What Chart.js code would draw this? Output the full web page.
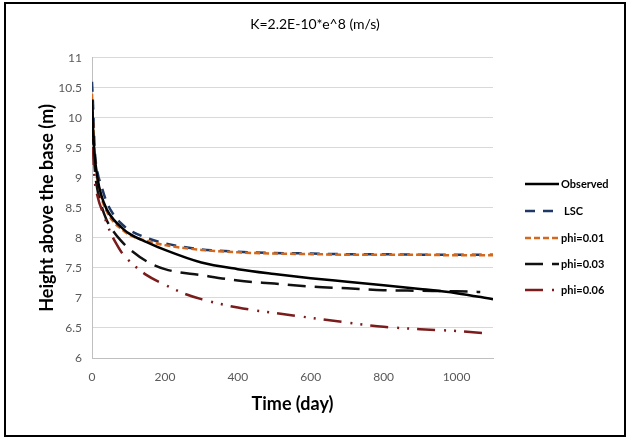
<!DOCTYPE html>
<html>
<head>
<meta charset="utf-8">
<script src="https://cdn.jsdelivr.net/npm/chart.js@4/dist/chart.umd.min.js"></script>
<style>
  html, body { margin: 0; padding: 0; background: #fff; }
  #frame {
    position: absolute; left: 4px; top: 2px;
    width: 618px; height: 431px;
    border: 2px solid #000;
  }
</style>
</head>
<body>
<div id="frame"><canvas id="heightChart"></canvas></div>
<script>
// data
const days = [0, 3, 7, 15, 25, 40, 60, 80, 100, 150, 200, 300, 400, 500, 600, 700, 800, 900, 1000, 1100];
const observed = [10.3, 9.8, 9.4, 9.0, 8.72, 8.48, 8.3, 8.18, 8.08, 7.93, 7.8, 7.59, 7.48, 7.4, 7.33, 7.27, 7.21, 7.15, 7.08, 6.98];
const lsc = [10.6, 10.2, 9.52, 9.1, 8.88, 8.6, 8.38, 8.24, 8.14, 8.0, 7.91, 7.81, 7.77, 7.75, 7.74, 7.73, 7.73, 7.72, 7.72, 7.72];
const phi001 = [10.4, 9.9, 9.4, 8.95, 8.68, 8.45, 8.26, 8.15, 8.06, 7.95, 7.88, 7.8, 7.76, 7.74, 7.73, 7.72, 7.72, 7.72, 7.71, 7.71];

const days003 = [0, 3, 7, 15, 25, 40, 60, 80, 100, 150, 200, 300, 400, 500, 600, 700, 800, 900, 1000, 1065];
const phi003 = [10.3, 9.7, 9.2, 8.8, 8.55, 8.3, 8.1, 7.95, 7.83, 7.61, 7.48, 7.38, 7.29, 7.24, 7.19, 7.16, 7.13, 7.12, 7.11, 7.1];

const days006 = [0, 3, 7, 15, 30, 50, 65, 80, 100, 150, 200, 250, 300, 400, 500, 600, 700, 800, 900, 1000, 1080];
const phi006 = [10.3, 9.5, 9.0, 8.7, 8.42, 8.1, 7.92, 7.77, 7.63, 7.38, 7.22, 7.08, 6.98, 6.84, 6.75, 6.67, 6.59, 6.52, 6.48, 6.45, 6.41];

const xTicks = [0, 200, 400, 600, 800, 1000];
const yTicks = [6, 6.5, 7, 7.5, 8, 8.5, 9, 9.5, 10, 10.5, 11];

function pts(xs, ys) {
    return xs.map((x, i) => ({ x: x, y: ys[i] }));
}

const fontFamily = 'Lato, "Open Sans", sans-serif';

// legend drawn by hand so it sits where Excel put it
const sideLegend = {
    id: 'sideLegend',
    afterDraw(chart) {
        const ctx = chart.ctx;
        const rows = [180, 207, 234, 260, 286];
        ctx.save();
        chart.data.datasets.forEach((ds, i) => {
            const y = rows[i];
            ctx.beginPath();
            ctx.setLineDash(ds.borderDash || []);
            ctx.lineWidth = ds.borderWidth;
            ctx.strokeStyle = ds.borderColor;
            ctx.moveTo(519, y);
            ctx.lineTo(553, y);
            ctx.stroke();
            ctx.setLineDash([]);
            ctx.fillStyle = '#000';
            ctx.font = 'bold 11px ' + fontFamily;
            ctx.textBaseline = 'middle';
            ctx.textAlign = 'left';
            ctx.fillText(ds.label, ds.label === 'LSC' ? 558 : 555, y);
        });
        ctx.restore();
    }
};

let ctx = document.getElementById('heightChart');
let config = {
    type: 'line',
    data: {
        datasets: [
            { label: 'Observed', data: pts(days, observed), borderColor: '#000000', borderWidth: 2.5, borderDash: [], order: 1 },
            { label: 'LSC', data: pts(days, lsc), borderColor: '#1F3864', borderWidth: 2.5, borderDash: [10, 8], order: 5 },
            { label: 'phi=0.01', data: pts(days, phi001), borderColor: '#D2691E', borderWidth: 2.5, borderDash: [6, 3], order: 4 },
            { label: 'phi=0.03', data: pts(days003, phi003), borderColor: '#111111', borderWidth: 2.5, borderDash: [18, 9], order: 3 },
            { label: 'phi=0.06', data: pts(days006, phi006), borderColor: '#7B1C1C', borderWidth: 2.5, borderDash: [18, 9, 2, 8, 2, 8], order: 2 }
        ]
    },
    options: {
        responsive: true,
        maintainAspectRatio: false,
        animation: false,
        layout: { padding: 0 },
        elements: {
            point: { radius: 0 },
            line: { cubicInterpolationMode: 'monotone', fill: false }
        },
        plugins: {
            legend: { display: false },
            tooltip: { enabled: false },
            title: {
                display: true,
                text: 'K=2.2E-10*e^8 (m/s)',
                color: '#000',
                font: { family: fontFamily, size: 14, weight: 'normal' },
                padding: { top: 12, bottom: 25 }
            }
        },
        scales: {
            x: {
                type: 'linear',
                min: 0,
                max: 1100,
                afterBuildTicks: (s) => { s.ticks = xTicks.map(v => ({ value: v })); },
                afterFit: (s) => { s.height = 77; },
                ticks: {
                    color: '#595959', font: { family: fontFamily, size: 12 }, padding: 12, maxRotation: 0,
                    callback: (v) => String(v)
                },
                grid: { display: false, drawTicks: false },
                border: { color: '#BFBFBF', width: 1 },
                title: {
                    display: true,
                    text: 'Time (day)',
                    color: '#000',
                    font: { family: fontFamily, size: 18, weight: 'bold' },
                    padding: { top: 0, bottom: 20 }
                }
            },
            y: {
                min: 6,
                max: 11,
                afterBuildTicks: (s) => { s.ticks = yTicks.map(v => ({ value: v })); },
                afterFit: (s) => { s.width = 86; },
                ticks: {
                    color: '#595959', font: { family: fontFamily, size: 12 }, padding: 10,
                    callback: (v) => String(v)
                },
                grid: { color: '#D9D9D9', lineWidth: 1, drawTicks: false },
                border: { color: '#BFBFBF', width: 1 },
                title: {
                    display: true,
                    text: 'Height above the base (m)',
                    color: '#000',
                    font: { family: fontFamily, size: 18, weight: 'bold' },
                    padding: { top: 30, bottom: 0 }
                }
            },
            // empty right-hand band that holds the legend
            side: {
                type: 'linear',
                position: 'right',
                display: true,
                afterFit: (s) => { s.width = 131; },
                ticks: { display: false },
                grid: { display: false, drawTicks: false },
                border: { display: false }
            }
        }
    },
    plugins: [sideLegend]
};
let heightChart = new Chart(ctx, config);
</script>
</body>
</html>
